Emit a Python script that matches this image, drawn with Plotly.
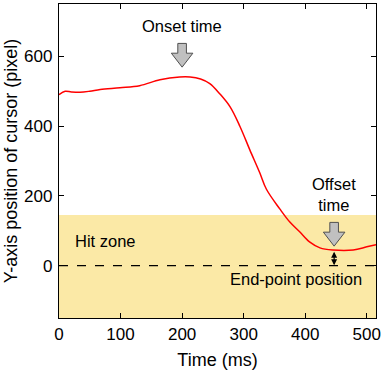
import plotly.graph_objects as go

# cursor trajectory
time_ms = [0, 10, 20, 34, 50, 67, 99, 131, 164, 196, 213, 230, 245, 261, 278, 294,
           310, 326, 337, 359, 375, 391, 407, 424, 445, 478, 500, 515]
y_pos = [490, 500, 498, 497, 500, 505, 510, 516, 533, 541, 541, 535, 522, 493, 455, 399,
         332, 267, 219, 162, 125, 97, 68, 51, 45, 45, 54, 60]

hit_zone = [-150, 145]
end_point = 0
onset_time = 200
offset_time = 447
offset_y = 45


def block_arrow(xc, y_top, y_bot, half_w=17.5, shaft_w=7, head_h=40):
    yh = y_bot + head_h
    return (f"M{xc - shaft_w},{y_top} L{xc + shaft_w},{y_top} L{xc + shaft_w},{yh} "
            f"L{xc + half_w},{yh} L{xc},{y_bot} L{xc - half_w},{yh} "
            f"L{xc - shaft_w},{yh} Z")


fig = go.Figure()
fig.add_shape(type="rect", x0=0, x1=515, y0=hit_zone[0], y1=hit_zone[1],
              fillcolor="#fbe9a6", line_width=0, layer="below")
fig.add_shape(type="line", x0=0, x1=515, y0=end_point, y1=end_point,
              line=dict(color="black", width=1.2, dash="dash"))
fig.add_trace(go.Scatter(x=time_ms, y=y_pos, mode="lines", line_shape="spline",
                         line=dict(color="#ff0000", width=1.5), showlegend=False))

for t, yt, yb in [(onset_time, 637, 569), (offset_time, 124, 56)]:
    fig.add_shape(type="path", path=block_arrow(t, yt, yb),
                  fillcolor="#c0c0c0", line=dict(color="#505050", width=1))

fig.add_annotation(x=offset_time, y=end_point + 1, ax=offset_time, ay=offset_y - 1,
                   xref="x", yref="y", axref="x", ayref="y", text="",
                   showarrow=True, arrowhead=2, arrowside="end+start",
                   arrowsize=1, arrowwidth=1.2, arrowcolor="black")

font = dict(family="Liberation Sans, Arial", size=16.5, color="black")
fig.add_annotation(x=onset_time, y=688, text="Onset time", showarrow=False, font=font)
fig.add_annotation(x=offset_time, y=203, text="Offset<br>time", showarrow=False,
                   font=font)
fig.add_annotation(x=22, y=71, text="Hit zone", showarrow=False, font=font,
                   xanchor="left")
fig.add_annotation(x=385, y=-37, text="End-point position", showarrow=False, font=font)

axis = dict(showline=True, linecolor="black", linewidth=1.3, mirror="ticks",
            ticks="inside", ticklen=5, tickcolor="black", showgrid=False,
            zeroline=False, tickfont=dict(size=17), automargin=False)
fig.update_xaxes(range=[0, 515], tickvals=[0, 100, 200, 300, 400, 500],
                 title=dict(text="Time (ms)", standoff=10, font=dict(size=18)), **axis)
fig.update_yaxes(range=[-150, 750], tickvals=[0, 200, 400, 600], ticklabelstandoff=2,
                 title=dict(text="Y-axis position of cursor (pixel)", standoff=1,
                            font=dict(size=18)), **axis)
fig.update_layout(width=383, height=372, margin=dict(l=59, r=7, t=4, b=54),
                  plot_bgcolor="white", paper_bgcolor="white",
                  font=dict(family="Liberation Sans, Arial", size=16, color="black"))
fig.write_html("out.html", config={"displayModeBar": False},
               post_script="document.body.style.margin='0';")
